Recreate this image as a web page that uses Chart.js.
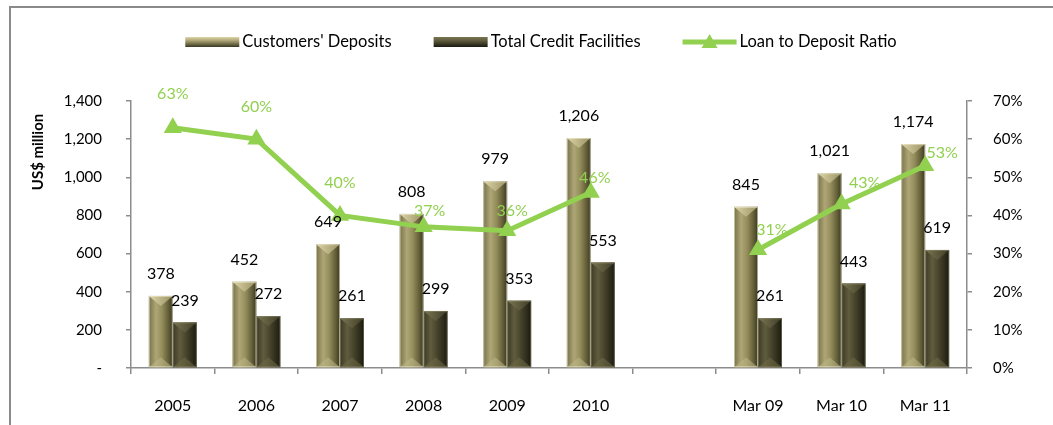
<!DOCTYPE html>
<html>
<head>
<meta charset="utf-8">
<script src="https://cdn.jsdelivr.net/npm/chart.js@4.4.1/dist/chart.umd.min.js"></script>
<style>
  html, body { margin: 0; padding: 0; background: #fff; }
  #wrap { position: relative; width: 1053px; height: 425px; overflow: hidden; }
  #frame { position: absolute; left: 9px; top: 6px; width: 1200px; height: 600px;
           border-top: 2px solid #8a8a8a; border-left: 2px solid #8a8a8a; }
  #myChart1 { position: absolute; left: 0; top: 0; }
</style>
</head>
<body>
<div id="wrap">
  <div id="frame"></div>
  <canvas id="myChart1" width="1053" height="425"></canvas>
</div>
<script>
const ctx = document.getElementById('myChart1');

// periods (blank slot separates the yearly figures from the March figures)
const periods = ['2005', '2006', '2007', '2008', '2009', '2010', '', 'Mar 09', 'Mar 10', 'Mar 11'];
const deposits = [378, 452, 649, 808, 979, 1206, null, 845, 1021, 1174];
const credit = [239, 272, 261, 299, 353, 553, null, 261, 443, 619];
const ratio = [63, 60, 40, 37, 36, 46, null, 31, 43, 53];
const usdTicks = [0, 200, 400, 600, 800, 1000, 1200, 1400];
const pctTicks = [0, 10, 20, 30, 40, 50, 60, 70];

const GREEN = '#92D050';
const FONT = 'Lato, "Open Sans", sans-serif';
Chart.defaults.font.family = FONT;
Chart.defaults.color = '#000';

// shading for the two bar series
const palettes = [
  { edge: '#78724a', light: '#aea676', mid: '#948d5b', dark: '#5c5834', edge2: '#3a3721',
    topA: '#ddd5a8', topB: '#9a9263', bottom: 'rgba(190,182,135,0.55)', rim: 'rgba(240,236,210,0.6)' },
  { edge: '#3c3a26', light: '#605c3e', mid: '#48452d', dark: '#2b2919', edge2: '#1a1910',
    topA: '#7a7652', topB: '#403d28', bottom: 'rgba(110,105,70,0.55)', rim: 'rgba(150,145,110,0.5)' }
];

function bevelBar(c, left, right, top, bottom, p) {
  const w = right - left;
  const h = bottom - top;
  if (h <= 0 || w <= 0) return;
  const d = Math.min(10, h / 2);
  const face = c.createLinearGradient(left, 0, right, 0);
  face.addColorStop(0, p.edge);
  face.addColorStop(0.3, p.light);
  face.addColorStop(0.55, p.mid);
  face.addColorStop(0.85, p.dark);
  face.addColorStop(1, p.edge2);
  c.fillStyle = face;
  c.fillRect(left, top, w, h);

  const cap = c.createLinearGradient(left, 0, right, 0);
  cap.addColorStop(0, p.topA);
  cap.addColorStop(1, p.topB);
  c.fillStyle = cap;
  c.beginPath();
  c.moveTo(left, top);
  c.lineTo(right, top);
  c.lineTo(left + w / 2, top + d);
  c.closePath();
  c.fill();

  c.fillStyle = p.bottom;
  c.beginPath();
  c.moveTo(left, bottom);
  c.lineTo(right, bottom);
  c.lineTo(left + w / 2, bottom - d);
  c.closePath();
  c.fill();

  c.strokeStyle = p.rim;
  c.lineWidth = 1;
  c.strokeRect(left + 0.5, top + 0.5, w - 1, h - 1);
}

// draws the bars with a bevelled look from the bar elements' geometry
const bevelPlugin = {
  id: 'bevelBars',
  afterDatasetDraw(chart, args) {
    if (args.meta.type !== 'bar') return;
    const c = chart.ctx;
    const p = palettes[args.index];
    c.save();
    args.meta.data.forEach((bar) => {
      const { x, y, base, width } = bar.getProps(['x', 'y', 'base', 'width'], true);
      if (isNaN(y)) return;
      bevelBar(c, x - width / 2, x + width / 2, y, base, p);
    });
    c.restore();
  }
};

// small nudges for the ratio labels so they sit clear of the line
const ratioLabelShift = [[0, -34], [0, -32], [0, -33], [6, -16], [5, -20], [4, -15], null, [14, -20], [23, -21], [17, -13]];

const labelPlugin = {
  id: 'valueLabels',
  afterDatasetsDraw(chart) {
    const c = chart.ctx;
    c.save();
    c.textAlign = 'center';
    c.textBaseline = 'middle';
    c.font = '16px ' + FONT;
    chart.data.datasets.forEach((ds, i) => {
      const meta = chart.getDatasetMeta(i);
      meta.data.forEach((el, j) => {
        const v = ds.data[j];
        if (v === null) return;
        if (meta.type === 'bar') {
          c.fillStyle = '#000';
          c.fillText(v.toLocaleString('en-US'), el.x, el.y - 22);
        } else {
          const s = ratioLabelShift[j] || [0, -30];
          c.fillStyle = GREEN;
          c.fillText(v + '%', el.x + s[0], el.y + s[1]);
        }
      });
    });
    c.restore();
  }
};

// legend row and the left axis title
const legendPlugin = {
  id: 'legendRow',
  afterDraw(chart) {
    const c = chart.ctx;
    c.save();
    c.font = '16.5px ' + FONT;
    c.textBaseline = 'middle';
    const items = [
      { text: "Customers' Deposits", kind: 0 },
      { text: 'Total Credit Facilities', kind: 1 },
      { text: 'Loan to Deposit Ratio', kind: 2 }
    ];
    const box = 54, gap = 3, spacing = 42, cy = 42;
    let total = 0;
    items.forEach((it, i) => {
      it.w = c.measureText(it.text).width;
      total += box + gap + it.w + (i ? spacing : 0);
    });
    let x = 541 - total / 2;
    items.forEach((it) => {
      if (it.kind < 2) {
        const p = palettes[it.kind];
        const g = c.createLinearGradient(0, cy - 5, 0, cy + 5);
        g.addColorStop(0, p.topA);
        g.addColorStop(0.35, p.light);
        g.addColorStop(1, p.edge2);
        c.fillStyle = g;
        c.fillRect(x, cy - 5, box, 10);
      } else {
        c.strokeStyle = GREEN;
        c.lineWidth = 5;
        c.beginPath();
        c.moveTo(x, cy);
        c.lineTo(x + box, cy);
        c.stroke();
        c.fillStyle = GREEN;
        c.beginPath();
        c.moveTo(x + box / 2, cy - 8);
        c.lineTo(x + box / 2 + 8, cy + 6);
        c.lineTo(x + box / 2 - 8, cy + 6);
        c.closePath();
        c.fill();
      }
      c.fillStyle = '#000';
      c.textAlign = 'left';
      c.fillText(it.text, x + box + gap, cy);
      x += box + gap + it.w + spacing;
    });

    c.translate(38, 152);
    c.rotate(-Math.PI / 2);
    c.font = 'bold 15px ' + FONT;
    c.textAlign = 'center';
    c.fillText('US$ million', 0, 0);
    c.restore();
  }
};

const axisGrey = '#8c8c8c';

new Chart(ctx, {
  type: 'bar',
  data: {
    labels: periods,
    datasets: [{
      label: "Customers' Deposits",
      data: deposits,
      backgroundColor: 'rgba(0,0,0,0)',
      borderWidth: 0,
      yAxisID: 'y',
      order: 1
    }, {
      label: 'Total Credit Facilities',
      data: credit,
      backgroundColor: 'rgba(0,0,0,0)',
      borderWidth: 0,
      yAxisID: 'y',
      order: 1
    }, {
      type: 'line',
      label: 'Loan to Deposit Ratio',
      data: ratio,
      yAxisID: 'y1',
      borderColor: GREEN,
      backgroundColor: GREEN,
      borderWidth: 5,
      pointStyle: 'triangle',
      pointRadius: 10.5,
      pointBorderWidth: 0,
      pointBackgroundColor: GREEN,
      tension: 0,
      spanGaps: false,
      order: 0
    }]
  },
  options: {
    responsive: false,
    animation: false,
    datasets: {
      bar: { categoryPercentage: 0.574, barPercentage: 1 }
    },
    layout: { padding: { left: 30, top: 101, right: 0, bottom: 0 } },
    plugins: {
      legend: { display: false },
      tooltip: { enabled: false }
    },
    scales: {
      x: {
        grid: { offset: true, drawOnChartArea: false, tickLength: 6, color: axisGrey, lineWidth: 1.5 },
        border: { color: axisGrey, width: 1.5 },
        ticks: { font: { size: 16 }, padding: 22, color: '#000', maxRotation: 0 },
        afterFit: (s) => { s.height = 57; }
      },
      y: {
        position: 'left',
        min: usdTicks[0],
        max: usdTicks[usdTicks.length - 1],
        afterBuildTicks: (s) => { s.ticks = usdTicks.map((v) => ({ value: v })); },
        grid: { drawOnChartArea: false, tickLength: 5, color: axisGrey, lineWidth: 1.5 },
        border: { color: axisGrey, width: 1.5 },
        ticks: {
          font: { size: 15 },
          padding: 24,
          color: '#000',
          callback: (v) => (v === 0 ? '-' : v.toLocaleString('en-US'))
        },
        afterFit: (s) => { s.width = 101; }
      },
      y1: {
        position: 'right',
        min: pctTicks[0],
        max: pctTicks[pctTicks.length - 1],
        afterBuildTicks: (s) => { s.ticks = pctTicks.map((v) => ({ value: v })); },
        grid: { drawOnChartArea: false, tickLength: 5, color: axisGrey, lineWidth: 1.5 },
        border: { color: axisGrey, width: 1.5 },
        ticks: { font: { size: 15 }, padding: 21, color: '#000', callback: (v) => v + '%' },
        afterFit: (s) => { s.width = 86; }
      }
    }
  },
  plugins: [bevelPlugin, labelPlugin, legendPlugin]
});
</script>
</body>
</html>
